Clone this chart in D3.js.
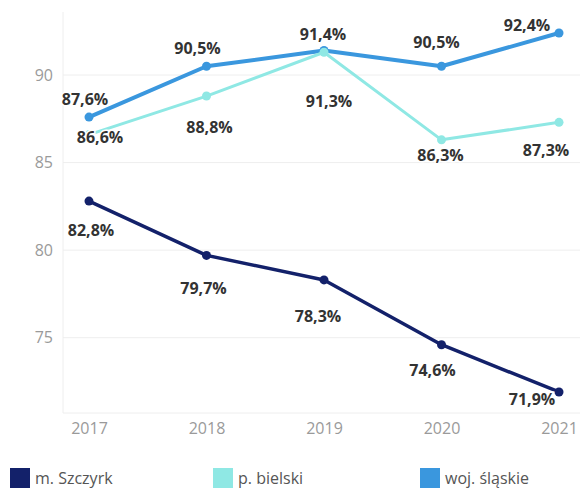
<!DOCTYPE html>
<html>
<head>
<meta charset="utf-8">
<script src="https://cdn.jsdelivr.net/npm/d3@7"></script>
<style>
  body { margin: 0; background: #fff; }
  svg { display: block; font-family: "Open Sans", sans-serif; }
</style>
</head>
<body>
<div class="chart"></div>
<script>
var years = ["2017", "2018", "2019", "2020", "2021"];
var seriesNames = ["m. Szczyrk", "p. bielski", "woj. śląskie"];
var szczyrkValues = [82.8, 79.7, 78.3, 74.6, 71.9];
var bielskiValues = [86.6, 88.8, 91.3, 86.3, 87.3];
var slaskieValues = [87.6, 90.5, 91.4, 90.5, 92.4];
var yTicks = [75, 80, 85, 90];

var width = 580;
var height = 491;
var colors = ["#13216a", "#8fe8e4", "#3a97de"];
var strokes = [3.5, 3, 4];

// label offsets (dx, dy) from each point, to keep them clear of the lines
var labelOffsets = [
  [[2, 29], [-3, 33], [-6, 36], [-9, 25], [-27, 7]],
  [[11, 2], [3, 31], [5, 49], [-1, 15], [-13, 28]],
  [[-4, -18], [-9, -18], [-1, -17], [-5, -24], [-32, -8]]
];

var series = [szczyrkValues, bielskiValues, slaskieValues].map(function(vals, i) {
  return {
    name: seriesNames[i],
    color: colors[i],
    stroke: strokes[i],
    values: vals.map(function(v, j) { return {x: years[j], y: v, off: labelOffsets[i][j]}; })
  };
});

var plotLeft = 63, plotRight = 580, plotTop = 12, plotBottom = 413;

var xScale = d3.scalePoint()
    .domain(years)
    .range([89, 559]);

var yScale = d3.scaleLinear()
    .domain([70.7, 93.6])
    .range([plotBottom, plotTop]);

var svg = d3.select(".chart").append("svg")
    .attr("width", width)
    .attr("height", height);

/* grid */
var grid = svg.append("g").attr("class", "grid");
grid.selectAll("line.h")
    .data(yTicks).enter()
    .append("line")
    .attr("class", "h")
    .attr("x1", plotLeft).attr("x2", plotRight)
    .attr("y1", d => yScale(d)).attr("y2", d => yScale(d))
    .attr("stroke", "#eeeeee").attr("stroke-width", 1);
grid.append("line")
    .attr("x1", plotLeft).attr("x2", plotRight)
    .attr("y1", plotBottom).attr("y2", plotBottom)
    .attr("stroke", "#eeeeee");
grid.append("line")
    .attr("x1", plotLeft).attr("x2", plotLeft)
    .attr("y1", plotTop).attr("y2", plotBottom)
    .attr("stroke", "#eeeeee");

/* axes */
var yAxis = d3.axisLeft(yScale).tickValues(yTicks).tickSize(0).tickPadding(10);
svg.append("g")
    .attr("transform", `translate(${plotLeft}, 0)`)
    .call(yAxis)
    .call(g => g.select(".domain").remove())
    .selectAll("text")
    .attr("fill", "#9a9a9a")
    .style("font-size", "16px")
    .style("font-family", "'Open Sans', sans-serif");

var xAxis = d3.axisBottom(xScale).tickSize(0).tickPadding(10);
svg.append("g")
    .attr("transform", `translate(0, ${plotBottom})`)
    .call(xAxis)
    .call(g => g.select(".domain").remove())
    .selectAll("text")
    .attr("fill", "#9a9a9a")
    .style("font-size", "16px")
    .style("font-family", "'Open Sans', sans-serif");

/* lines */
var line = d3.line()
    .x(d => xScale(d.x))
    .y(d => yScale(d.y));

var drawOrder = [0, 2, 1];
var lines = svg.append("g").attr("class", "lines");
drawOrder.forEach(function(i) {
  var s = series[i];
  var g = lines.append("g").attr("class", "line-group");
  g.append("path")
      .attr("d", line(s.values))
      .attr("fill", "none")
      .attr("stroke", s.color)
      .attr("stroke-width", s.stroke)
      .attr("stroke-linejoin", "round");
  g.selectAll("circle")
      .data(s.values).enter()
      .append("circle")
      .attr("cx", d => xScale(d.x))
      .attr("cy", d => yScale(d.y))
      .attr("r", 4.5)
      .attr("fill", s.color);
});

/* value labels */
var labels = svg.append("g").attr("class", "labels");
series.forEach(function(s) {
  labels.selectAll(null)
      .data(s.values).enter()
      .append("text")
      .attr("x", d => xScale(d.x) + d.off[0])
      .attr("y", d => yScale(d.y) + d.off[1])
      .attr("text-anchor", "middle")
      .attr("dominant-baseline", "central")
      .attr("fill", "#333")
      .attr("stroke", "#fff")
      .attr("stroke-width", 3)
      .attr("paint-order", "stroke")
      .style("font-size", "16px")
      .style("font-weight", "700")
      .text(d => d.y.toFixed(1).replace(".", ",") + "%");
});

/* legend */
var legendX = [10, 213, 420];
var legend = svg.append("g").attr("class", "legend");
series.forEach(function(s, i) {
  var g = legend.append("g").attr("transform", `translate(${legendX[i]}, 468)`);
  g.append("rect")
      .attr("width", 20).attr("height", 20)
      .attr("fill", s.color);
  g.append("text")
      .attr("x", 25).attr("y", 10)
      .attr("dominant-baseline", "central")
      .attr("fill", "#555")
      .style("font-size", "16px")
      .text(s.name);
});
</script>
</body>
</html>
